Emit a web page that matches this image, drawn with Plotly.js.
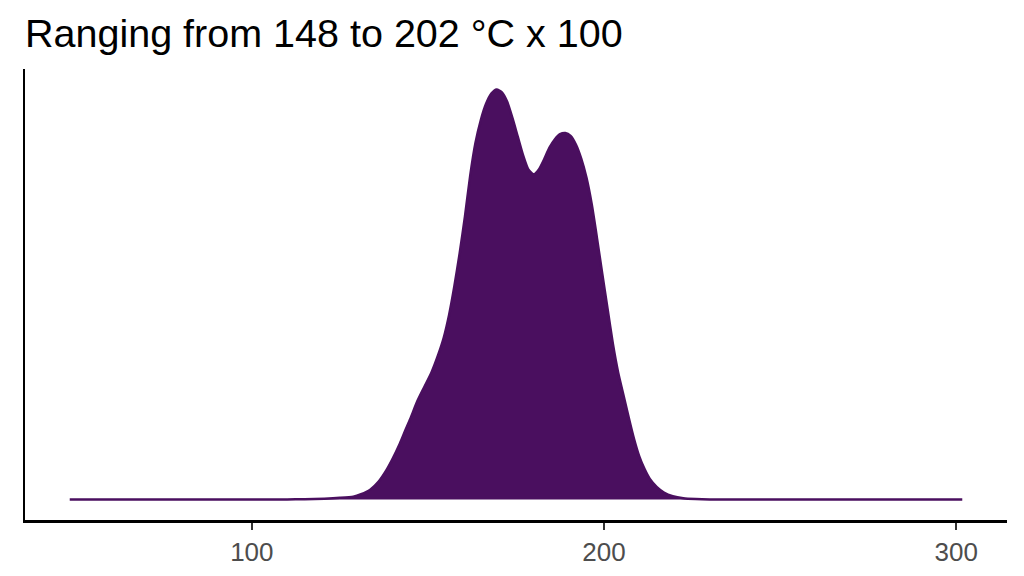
<!DOCTYPE html>
<html>
<head>
<meta charset="utf-8">
<script src="https://cdn.plot.ly/plotly-3.0.1.min.js"></script>
<style>html,body{margin:0;padding:0;background:#fff;}#chart{width:1024px;height:576px;}</style>
</head>
<body>
<div id="chart"></div>
<script>
// temperature (axis units, °C x 100 as in the title) and relative density
const temperature = [48.3, 80, 100, 110, 115, 120.6, 125, 128.8, 131, 133.6, 136, 138.3, 140, 142.1, 143.5, 145, 147, 149, 151, 153, 154.5, 156, 157.5, 159, 160.5, 162, 163.5, 165, 166.5, 168, 169.5, 171, 172.5, 174, 175.5, 177, 178.5, 180, 181.5, 183, 184.5, 186, 187.5, 189, 190.5, 192, 193.5, 195, 196.5, 198, 199.5, 201, 202.5, 204, 205.5, 207, 208.5, 210, 211.5, 213, 215, 217, 219.5, 222.5, 226, 230, 250, 280, 301.7];
const density = [0, 0, 0, 0.0002, 0.0006, 0.002, 0.004, 0.007, 0.013, 0.024, 0.044, 0.073, 0.1, 0.138, 0.167, 0.197, 0.24, 0.275, 0.31, 0.355, 0.395, 0.45, 0.52, 0.6, 0.69, 0.79, 0.87, 0.925, 0.965, 0.99, 1.0, 0.993, 0.97, 0.93, 0.885, 0.84, 0.805, 0.793, 0.805, 0.83, 0.858, 0.878, 0.891, 0.894, 0.887, 0.866, 0.832, 0.785, 0.72, 0.637, 0.55, 0.465, 0.38, 0.31, 0.255, 0.2, 0.148, 0.105, 0.074, 0.05, 0.03, 0.017, 0.008, 0.003, 0.001, 0, 0, 0, 0];
const tickValues = [100, 200, 300];
const tickLabels = ["100", "200", "300"];
const titleText = "Ranging from 148 to 202 °C x 100";

const fillColor = "#4a0f5f";

const trace = {
  x: temperature,
  y: density,
  type: "scatter",
  mode: "lines",
  fill: "tozeroy",
  fillcolor: fillColor,
  line: {color: fillColor, width: 2.5, shape: "spline", smoothing: 0.6},
  hoverinfo: "skip"
};

const layout = {
  width: 1024,
  height: 576,
  margin: {l: 25, r: 17, t: 69, b: 56, pad: 0},
  paper_bgcolor: "#ffffff",
  plot_bgcolor: "#ffffff",
  showlegend: false,
  font: {family: "Liberation Sans, Arial, sans-serif"},
  title: {
    text: titleText,
    x: 0, xref: "paper", xanchor: "left",
    y: 0.942, yref: "container", yanchor: "middle",
    font: {size: 39.5, color: "#000000", family: "Liberation Sans, Arial, sans-serif"}
  },
  xaxis: {
    range: [35.6, 314.4],
    tickvals: tickValues,
    ticktext: tickLabels,
    ticks: "outside",
    ticklen: 7,
    tickwidth: 2,
    tickcolor: "#333333",
    tickfont: {size: 26, color: "#4d4d4d"},
    showline: true,
    linecolor: "#000000",
    linewidth: 2.5,
    showgrid: false,
    zeroline: false,
    fixedrange: true
  },
  yaxis: {
    range: [-0.05, 1.05],
    showticklabels: false,
    ticks: "",
    showline: true,
    linecolor: "#000000",
    linewidth: 2.5,
    showgrid: false,
    zeroline: false,
    fixedrange: true
  }
};

Plotly.newPlot("chart", [trace], layout, {displayModeBar: false, staticPlot: true});
</script>
</body>
</html>
